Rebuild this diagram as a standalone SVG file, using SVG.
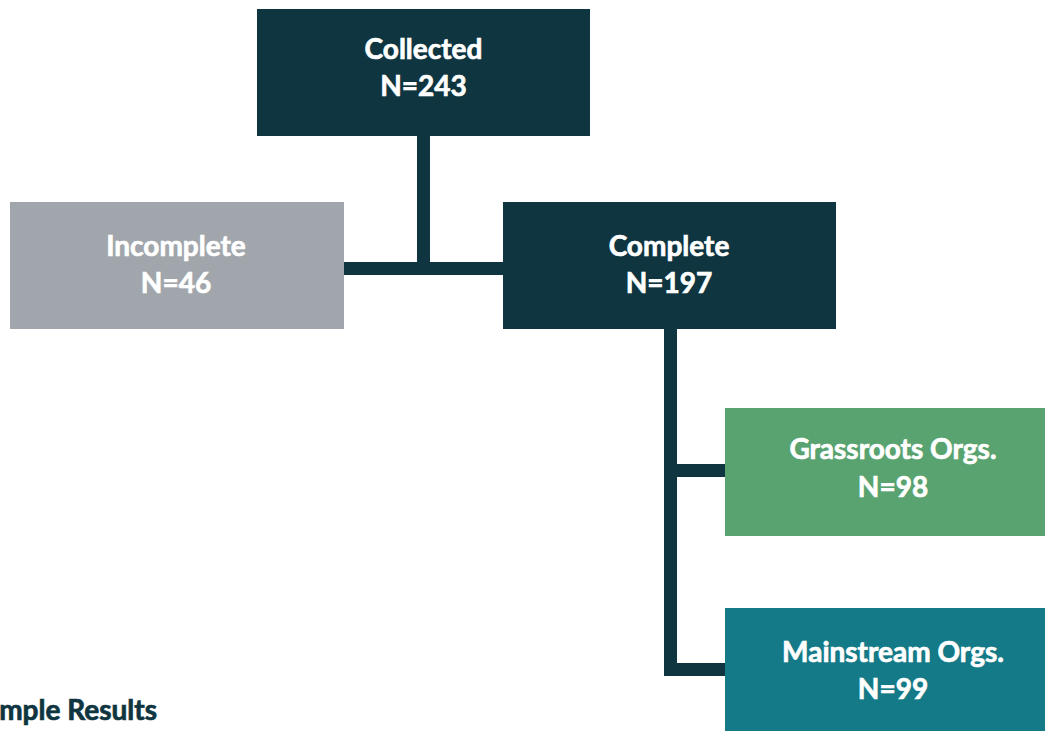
<svg xmlns="http://www.w3.org/2000/svg" width="1045" height="731" viewBox="0 0 1045 731">
<style>
.lbl{font-family:Lato,"Open Sans","Liberation Sans",sans-serif;font-weight:700;font-size:28px;fill:#ffffff;stroke:#ffffff;stroke-width:0.7px;text-anchor:middle}
.conn{fill:#0e3540}
.title{font-family:Lato,"Open Sans","Liberation Sans",sans-serif;font-weight:700;font-size:28px;fill:#0e3540;stroke:#0e3540;stroke-width:0.7px;text-anchor:end}
</style>
<rect width="1045" height="731" fill="#ffffff"/>
<g id="connectors">
<rect class="conn" x="417" y="136" width="13" height="139"/>
<rect class="conn" x="344" y="262" width="159" height="13"/>
<rect class="conn" x="664" y="329" width="13" height="347"/>
<rect class="conn" x="664" y="464" width="61" height="13"/>
<rect class="conn" x="664" y="663" width="61" height="13"/>
</g>
<g id="collected">
<rect x="257" y="9" width="333" height="127" fill="#0e3540"/>
<text class="lbl" x="423.5" y="59">Collected</text>
<text class="lbl" x="423.5" y="96">N=243</text>
</g>
<g id="incomplete">
<rect x="10" y="202" width="334" height="127" fill="#a0a6ab"/>
<text class="lbl" x="176" y="256">Incomplete</text>
<text class="lbl" x="176" y="293">N=46</text>
</g>
<g id="complete">
<rect x="503" y="202" width="333" height="127" fill="#0e3540"/>
<text class="lbl" x="669" y="256">Complete</text>
<text class="lbl" x="669" y="293">N=197</text>
</g>
<g id="grassroots">
<rect x="725" y="408" width="320" height="128" fill="#58a36f"/>
<text class="lbl" x="893" y="459">Grassroots Orgs.</text>
<text class="lbl" x="893" y="497">N=98</text>
</g>
<g id="mainstream">
<rect x="725" y="608" width="320" height="123" fill="#157a87"/>
<text class="lbl" x="893" y="662">Mainstream Orgs.</text>
<text class="lbl" x="893" y="699">N=99</text>
</g>
<text class="title" x="157" y="720">Sample Results</text>
</svg>
